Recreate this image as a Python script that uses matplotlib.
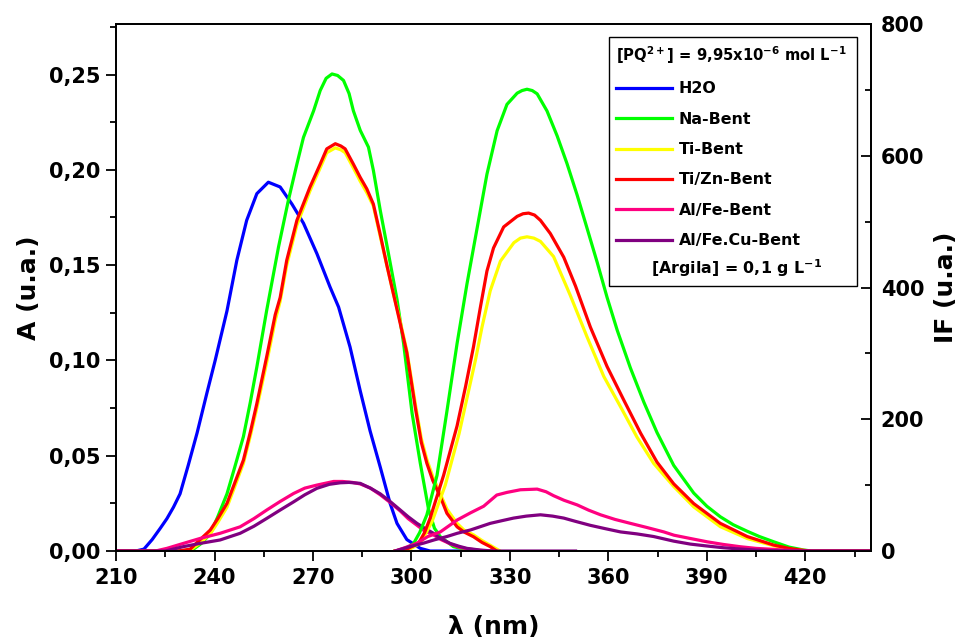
import matplotlib
matplotlib.use("Agg")
import matplotlib.pyplot as plt
from matplotlib.patches import Rectangle
from matplotlib.ticker import MultipleLocator, FuncFormatter

plt.rcParams['font.family'] = ['DejaVu Sans']
plt.rcParams['font.weight'] = 'bold'
plt.rcParams['mathtext.fontset'] = 'dejavusans'
plt.rcParams['mathtext.default'] = 'bf'

# ---- absorbance spectra (left axis) ----
h2o_abs_wl = [210, 216, 218.5, 221, 223.5, 225.5, 227.5, 229.5, 232, 234.7, 237.7, 240.2, 242,
              243.8, 246.8, 249.8, 252.9, 256.4, 260, 263.6, 267.1, 271.2, 275.2, 277.8, 281.3,
              284.4, 287.4, 290.5, 293.5, 295.6, 298.6, 302.7, 305.7, 318]
h2o_abs = [0, 0, 0.001, 0.006, 0.012, 0.017, 0.023, 0.030, 0.045, 0.062, 0.083, 0.100, 0.113,
           0.126, 0.1525, 0.1735, 0.1875, 0.1935, 0.191, 0.182, 0.172, 0.156, 0.1385, 0.128, 0.107,
           0.084, 0.063, 0.044, 0.025, 0.0145, 0.006, 0.0014, 0, 0]

na_abs_wl = [210, 232, 233.6, 236, 238.7, 241, 243.8, 246, 248.8, 250.9, 252.9, 255.9, 259.5,
             262.5, 265.1, 267.1, 270.2, 272.2, 274, 275.8, 277.5, 279.3, 281, 282.3, 284.4, 286.9,
             288.4, 290.5, 293.0, 295.6, 297.6, 300.2, 302.7, 305.2, 307, 308.8, 312.8, 316, 320]
na_abs = [0, 0, 0.001, 0.004, 0.009, 0.018, 0.030, 0.043, 0.060, 0.078, 0.0966, 0.1263, 0.1595,
          0.184, 0.203, 0.217, 0.231, 0.2416, 0.248, 0.2503, 0.2495, 0.2469, 0.240, 0.231, 0.2207,
          0.2119, 0.1997, 0.1787, 0.156, 0.132, 0.109, 0.0722, 0.046, 0.022, 0.012, 0.0075, 0.0023,
          0.001, 0]

ti_abs_wl = [210, 230, 233, 235.5, 238.7, 241, 243.8, 246, 248.8, 251, 252.9, 255.9, 258.5, 260,
             262, 265.1, 269.1, 272.2, 274.2, 276.8, 278.5, 279.8, 282.3, 284.4, 286.4, 288.4,
             290.5, 292.5, 294.5, 296.5, 298.6, 301.2, 303, 304.7, 306.5, 308.8, 310.8, 313.9,
             316, 318.9, 321.5, 324, 327]
ti_abs = [0, 0, 0.001, 0.004, 0.009, 0.015, 0.023, 0.033, 0.046, 0.061, 0.075, 0.099, 0.121,
          0.131, 0.150, 0.171, 0.189, 0.201, 0.209, 0.2115, 0.2105, 0.209, 0.201, 0.194, 0.188,
          0.181, 0.165, 0.150, 0.135, 0.121, 0.105, 0.077, 0.059, 0.048, 0.039, 0.030, 0.022,
          0.0145, 0.011, 0.0085, 0.0055, 0.003, 0]

tizn_abs_wl = [210, 229, 232.6, 235, 238.7, 241, 243.8, 246, 248.8, 251, 252.9, 255.9, 258.5,
               260, 262, 265.1, 269.1, 272.2, 274.2, 276.8, 278.5, 279.8, 282.3, 284.4, 286.4,
               288.4, 290.5, 292.5, 294.5, 296.5, 298.6, 301.2, 303, 304.7, 306.5, 308.8, 310.8,
               313.9, 316, 318.9, 321.5, 324, 326]
tizn_abs = [0, 0, 0.001, 0.005, 0.011, 0.017, 0.025, 0.035, 0.0477, 0.063, 0.0774, 0.102, 0.124,
            0.133, 0.1525, 0.1735, 0.191, 0.203, 0.211, 0.2137, 0.2125, 0.211, 0.203, 0.196, 0.190,
            0.182, 0.166, 0.150, 0.135, 0.120, 0.104, 0.075, 0.057, 0.046, 0.037, 0.0285, 0.0198,
            0.0127, 0.010, 0.0075, 0.0045, 0.0023, 0]

alfe_abs_wl = [210, 222, 225.5, 230.5, 235.6, 241.7, 247.8, 252, 255.9, 260, 264.1, 267.5, 271.2,
               276.3, 279, 282, 284.4, 287.5, 290.5, 293.5, 296.6, 299, 301.7, 304, 306.7, 309,
               311.8, 314.5, 316.9, 321, 325]
alfe_abs = [0, 0, 0.0014, 0.004, 0.0066, 0.0093, 0.0127, 0.017, 0.0215, 0.026, 0.0302, 0.033,
            0.0346, 0.0365, 0.0365, 0.036, 0.0352, 0.033, 0.0295, 0.0255, 0.021, 0.017, 0.0135,
            0.0105, 0.0085, 0.006, 0.0038, 0.002, 0.0012, 0.0003, 0]

alfecu_abs_wl = [210, 225, 230.5, 235.6, 241.7, 247.8, 252, 255.9, 260, 264.1, 267.5, 271.2, 275,
                 278.3, 281, 284.4, 287.5, 290.5, 293.5, 296.6, 299, 301.7, 304, 306.7, 309, 311.8,
                 314.5, 316.9, 321, 325, 350]
alfecu_abs = [0, 0, 0.0023, 0.004, 0.0058, 0.0093, 0.013, 0.0171, 0.0215, 0.0258, 0.0295, 0.0329,
              0.035, 0.0358, 0.036, 0.0355, 0.033, 0.030, 0.026, 0.0215, 0.018, 0.0145, 0.012,
              0.0093, 0.0065, 0.004, 0.0025, 0.0014, 0.0005, 0, 0]

# ---- fluorescence spectra (right axis) ----
na_fl_wl = [295, 298, 300.6, 302.5, 304.7, 307.8, 310.8, 313.9, 316.9, 320, 323, 326.1, 329.1,
            332.2, 333.7, 335.2, 336.8, 338.3, 341.3, 344.4, 347.4, 350.5, 353.5, 356.6, 359.6,
            362.7, 366.7, 370.8, 374.8, 379.9, 386, 390, 394.1, 398, 402.3, 406, 410.4, 415,
            419.5, 422, 440]
na_fl = [0, 3, 11, 28, 55, 115, 212, 315, 405, 490, 572, 638, 678, 695, 699, 701, 699, 694, 668,
         630, 588, 540, 490, 438, 385, 335, 278, 226, 180, 130, 88, 68, 52, 40, 30, 22, 14, 6,
         1.5, 0, 0]

ti_fl_wl = [295, 299.5, 302.8, 304.5, 306.3, 310.3, 314.5, 319.5, 321.5, 324, 327.1, 331.2,
            333.2, 335.2, 337.3, 339.3, 343.3, 348.4, 353.5, 358.6, 363.7, 368.7, 373.8, 379.9,
            386, 394.1, 402.3, 410.4, 415, 419.5, 422, 440]
ti_fl = [0, 3, 12, 28, 45, 100, 178, 290, 340, 395, 440, 468, 475, 477, 475, 470, 447, 388, 325,
         265, 219, 173, 133, 98, 67, 37, 19, 8, 3, 1, 0, 0]

tizn_fl_wl = [295, 299, 302.2, 304, 305.7, 309.8, 313.9, 316.5, 318.9, 321, 323, 325, 328.1,
              332.2, 334, 335.7, 337.5, 339.3, 342.3, 346.4, 350, 354.5, 359.6, 364.7, 369.8,
              374.8, 379.9, 386, 394.1, 402.3, 410.4, 415, 419.5, 422, 440]
tizn_fl = [0, 4, 12, 28, 50, 115, 190, 250, 310, 370, 425, 460, 492, 508, 512, 513, 510, 502,
           482, 446, 402, 340, 280, 229, 179, 135, 102, 72, 42, 22, 9, 4, 1, 0, 0]

alfe_fl_wl = [295, 298, 301.7, 305, 308.8, 313.9, 318, 322, 326, 329.1, 333.2, 338.3, 341, 343.3,
              346.5, 350.5, 354, 357.6, 362, 366.7, 371.5, 376.9, 380, 385, 390.1, 395, 400.2,
              405, 410.4, 415, 419.5, 440]
alfe_fl = [0, 5, 12, 22, 29, 47, 58, 68, 85, 89, 93, 94, 90, 84, 77, 70, 62, 55, 48, 42, 36, 29,
           24, 19, 14, 10, 6.5, 4, 2.5, 1, 0, 0]

alfecu_fl_wl = [295, 299, 303.7, 307, 310.8, 314, 318, 321, 324, 327.5, 331.1, 335, 339.3, 343,
                346.4, 350, 354.5, 359, 363.7, 368.7, 373.8, 379.9, 385, 390.1, 395, 400.2, 405,
                410, 415, 440]
alfecu_fl = [0, 6, 12, 17, 22, 27, 32, 37, 42, 46, 50, 53, 55, 53, 50, 45, 39, 34, 29, 26, 22, 15,
             10.5, 7.6, 5, 3, 1.5, 0.5, 0, 0]

labels = ['H2O', 'Na-Bent', 'Ti-Bent', 'Ti/Zn-Bent', 'Al/Fe-Bent', 'Al/Fe.Cu-Bent']
colors = ['#0000FF', '#00FF00', '#FFFF00', '#FF0000', '#FF0080', '#800080']

abs_data = [(h2o_abs_wl, h2o_abs), (na_abs_wl, na_abs), (ti_abs_wl, ti_abs),
            (tizn_abs_wl, tizn_abs), (alfe_abs_wl, alfe_abs), (alfecu_abs_wl, alfecu_abs)]
fl_data = [(na_fl_wl, na_fl, colors[1]), (ti_fl_wl, ti_fl, colors[2]),
           (tizn_fl_wl, tizn_fl, colors[3]), (alfe_fl_wl, alfe_fl, colors[4]),
           (alfecu_fl_wl, alfecu_fl, colors[5])]

lw = 2.3
fig, ax = plt.subplots(figsize=(9.67, 6.42), dpi=100)
fig.subplots_adjust(left=0.12, right=0.9007, top=0.9626, bottom=0.1417)
ax2 = ax.twinx()

handles = []
for (wl, a), lab, c in zip(abs_data, labels, colors):
    h, = ax.plot(wl, a, color=c, lw=lw, label=lab, solid_joinstyle='round')
    handles.append(h)

for wl, f, c in fl_data:
    ax2.plot(wl, f, color=c, lw=lw, solid_joinstyle='round')

ax.set_xlim(210, 440)
ax.set_ylim(0, 0.2765)
ax2.set_ylim(0, 800)

ax.xaxis.set_major_locator(MultipleLocator(30))
ax.xaxis.set_minor_locator(MultipleLocator(15))
ax.yaxis.set_major_locator(MultipleLocator(0.05))
ax.yaxis.set_minor_locator(MultipleLocator(0.025))
ax.yaxis.set_major_formatter(FuncFormatter(lambda v, p: f"{v:.2f}".replace('.', ',')))
ax2.yaxis.set_major_locator(MultipleLocator(200))
ax2.yaxis.set_minor_locator(MultipleLocator(100))

ax.tick_params(axis='both', which='major', direction='out', length=7, width=1.3,
               labelsize=15, top=False, right=False)
ax.tick_params(axis='both', which='minor', direction='out', length=4, width=1.3,
               top=False, right=False)
ax.tick_params(axis='y', which='major', pad=4)
ax.tick_params(axis='x', which='major', pad=5)
ax2.tick_params(axis='y', which='major', direction='in', length=7, width=1.3,
                labelsize=15, pad=7)
ax2.tick_params(axis='y', which='minor', direction='in', length=4, width=1.3)

for a in (ax, ax2):
    for s in a.spines.values():
        s.set_linewidth(1.3)

ax.set_xlabel('λ (nm)', fontsize=18, fontweight='bold', labelpad=20)
ax.set_ylabel('A (u.a.)', fontsize=18, fontweight='bold', labelpad=6)
ax2.set_ylabel('IF (u.a.)', fontsize=18, fontweight='bold', labelpad=7)

# legend box with concentration notes
box = Rectangle((0.653, 0.503), 0.328, 0.472, transform=ax2.transAxes, facecolor='white',
                edgecolor='black', lw=1.0, zorder=5)
ax2.add_patch(box)
leg = ax2.legend(handles=handles, labels=labels,
                 title=r'[PQ$^{2+}$] = 9,95x10$^{-6}$ mol L$^{-1}$',
                 loc='upper left', bbox_to_anchor=(0.653, 0.975), borderaxespad=0,
                 frameon=False, fontsize=11.4, title_fontsize=10.6, alignment='left',
                 handlelength=3.5, handletextpad=0.45, labelspacing=0.97, borderpad=0.45)
leg.set_zorder(6)
for line in leg.get_lines():
    line.set_linewidth(lw)
ax2.text(0.8225, 0.537, r'[Argila] = 0,1 g L$^{-1}$', transform=ax2.transAxes,
         ha='center', va='center', fontsize=11.4, fontweight='bold', zorder=7)

fig.savefig('out.png', dpi=100)
